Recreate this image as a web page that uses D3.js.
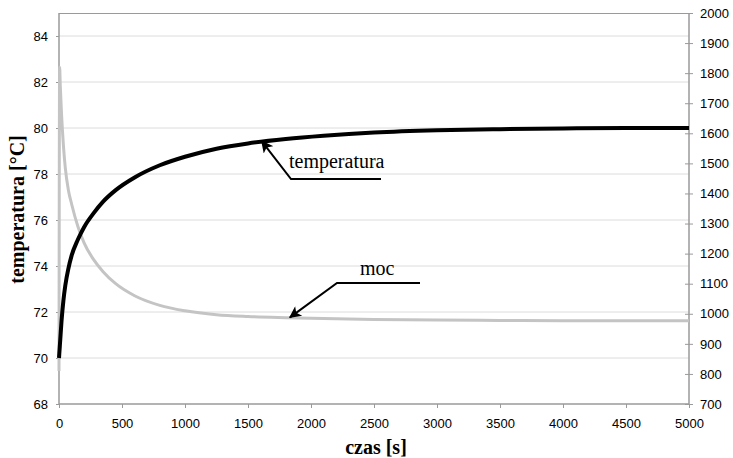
<!DOCTYPE html>
<html>
<head>
<meta charset="utf-8">
<script src="https://cdn.jsdelivr.net/npm/d3@7"></script>
<style>
  html, body { margin: 0; padding: 0; background: #fff; }
  svg { display: block; }
  .tick text { font-family: Arial, "Liberation Sans", sans-serif; font-size: 13px; fill: #000; }
</style>
</head>
<body>
<svg id="chart" width="733" height="458"></svg>
<script>
// Time samples [s]
const czas = [0, 5, 10, 20, 35, 50, 75, 100, 150, 200, 275, 350, 450, 600, 800, 1000,
              1250, 1500, 1800, 2100, 2500, 3000, 3500, 4000, 4500, 5000];
// Temperature [°C] (left axis)
const temperatura = [70.0, 70.4, 70.8, 71.6, 72.5, 73.15, 73.9, 74.45, 75.15, 75.7, 76.3, 76.8,
                     77.3, 77.85, 78.38, 78.75, 79.1, 79.33, 79.52, 79.66, 79.8, 79.9, 79.95,
                     79.98, 80.0, 80.0];
// Power (right axis)
const moc = [810, 1820, 1760, 1665, 1560, 1485, 1410, 1365, 1290, 1235, 1180, 1140,
             1100, 1060, 1028, 1010, 997, 991, 987, 984, 981, 979, 978, 977, 977, 977];

const xTicks = [0, 500, 1000, 1500, 2000, 2500, 3000, 3500, 4000, 4500, 5000];
const leftTicks = [68, 70, 72, 74, 76, 78, 80, 82, 84];
const rightTicks = [700, 800, 900, 1000, 1100, 1200, 1300, 1400, 1500, 1600, 1700, 1800, 1900, 2000];

// Annotation anchors: [czas, value] on each series
const tempLabel = { text: "temperatura", at: [1610, 79.42] };
const mocLabel = { text: "moc", at: [1833, 988] };

const svg = d3.select("#chart");
const plot = { left: 59, top: 13, right: 689, bottom: 404 };

const x = d3.scaleLinear().domain([0, 5000]).range([plot.left, plot.right]);
const yL = d3.scaleLinear().domain([68, 85]).range([plot.bottom, plot.top]);
const yR = d3.scaleLinear().domain([700, 2000]).range([plot.bottom, plot.top]);

const axisColor = "#9a9a9a";
const gridColor = "#dcdcdc";

// Horizontal gridlines
svg.append("g")
  .selectAll("line")
  .data(leftTicks.filter(d => d > 68))
  .join("line")
  .attr("x1", plot.left).attr("x2", plot.right)
  .attr("y1", d => yL(d)).attr("y2", d => yL(d))
  .attr("stroke", gridColor).attr("stroke-width", 1);

// Top frame line
svg.append("line")
  .attr("x1", plot.left).attr("x2", plot.right)
  .attr("y1", plot.top + 0.5).attr("y2", plot.top + 0.5)
  .attr("stroke", axisColor).attr("stroke-width", 1);

// Axes
const gx = svg.append("g")
  .attr("transform", `translate(0,${plot.bottom})`)
  .call(d3.axisBottom(x).tickValues(xTicks).tickSize(4).tickPadding(11).tickFormat(d3.format("d")));
const gl = svg.append("g")
  .attr("transform", `translate(${plot.left},0)`)
  .call(d3.axisLeft(yL).tickValues(leftTicks).tickSize(3).tickPadding(8).tickFormat(d3.format("d")));
const gr = svg.append("g")
  .attr("transform", `translate(${plot.right},0)`)
  .call(d3.axisRight(yR).tickValues(rightTicks).tickSize(4).tickPadding(7).tickFormat(d3.format("d")));
gr.selectAll(".tick line").attr("x1", -4);

[gx, gl, gr].forEach(g => {
  g.select(".domain").attr("stroke", axisColor).attr("stroke-width", 1.5);
  g.selectAll(".tick line").attr("stroke", axisColor);
});
// Keep the domain lines square without end caps
gx.select(".domain").attr("d", `M${plot.left},0H${plot.right}`);
gl.select(".domain").attr("d", `M0,${plot.top}V${plot.bottom}`);
gr.select(".domain").attr("d", `M0,${plot.top}V${plot.bottom}`);

// Series
const rows = czas.map((t, i) => ({ t, temp: temperatura[i], p: moc[i] }));

svg.append("path")
  .datum(rows)
  .attr("fill", "none")
  .attr("stroke", "#c4c4c4")
  .attr("stroke-width", 3)
  .attr("stroke-linejoin", "round")
  .attr("d", d3.line().x(d => x(d.t)).y(d => yR(d.p)).curve(d3.curveMonotoneX));

svg.append("path")
  .datum(rows)
  .attr("fill", "none")
  .attr("stroke", "#000")
  .attr("stroke-width", 4)
  .attr("stroke-linejoin", "round")
  .attr("d", d3.line().x(d => x(d.t)).y(d => yL(d.temp)).curve(d3.curveMonotoneX));

// Axis titles
svg.append("text")
  .attr("x", (plot.left + plot.right) / 2 + 2)
  .attr("y", 454)
  .attr("text-anchor", "middle")
  .attr("font-family", "'Liberation Serif', 'Times New Roman', serif")
  .attr("font-weight", "bold")
  .attr("font-size", 20)
  .text("czas [s]");

svg.append("text")
  .attr("transform", `translate(24,${(plot.top + plot.bottom) / 2 + 1}) rotate(-90)`)
  .attr("text-anchor", "middle")
  .attr("font-family", "'Liberation Serif', 'Times New Roman', serif")
  .attr("font-weight", "bold")
  .attr("font-size", 20)
  .text("temperatura [°C]");

// Callouts with arrows
svg.append("defs").append("marker")
  .attr("id", "arrow")
  .attr("viewBox", "0 0 10 10")
  .attr("refX", 9).attr("refY", 5)
  .attr("markerWidth", 7).attr("markerHeight", 6)
  .attr("markerUnits", "strokeWidth")
  .attr("orient", "auto")
  .append("path").attr("d", "M0,0L10,5L0,10L2.5,5Z").attr("fill", "#000");

function callout(lbl, yScale, elbow, lineEnd, textPos) {
  const tip = [x(lbl.at[0]), yScale(lbl.at[1])];
  svg.append("path")
    .attr("d", `M${lineEnd[0]},${lineEnd[1]}H${elbow[0]}L${tip[0]},${tip[1]}`)
    .attr("fill", "none")
    .attr("stroke", "#000")
    .attr("stroke-width", 2)
    .attr("marker-end", "url(#arrow)");
  svg.append("text")
    .attr("x", textPos[0]).attr("y", textPos[1])
    .attr("font-family", "'Liberation Serif', 'Times New Roman', serif")
    .attr("font-size", 20)
    .text(lbl.text);
}

callout(tempLabel, yL, [291, 179], [381, 179], [289, 168]);
callout(mocLabel, yR, [337, 283], [420, 283], [360, 275]);
</script>
</body>
</html>
